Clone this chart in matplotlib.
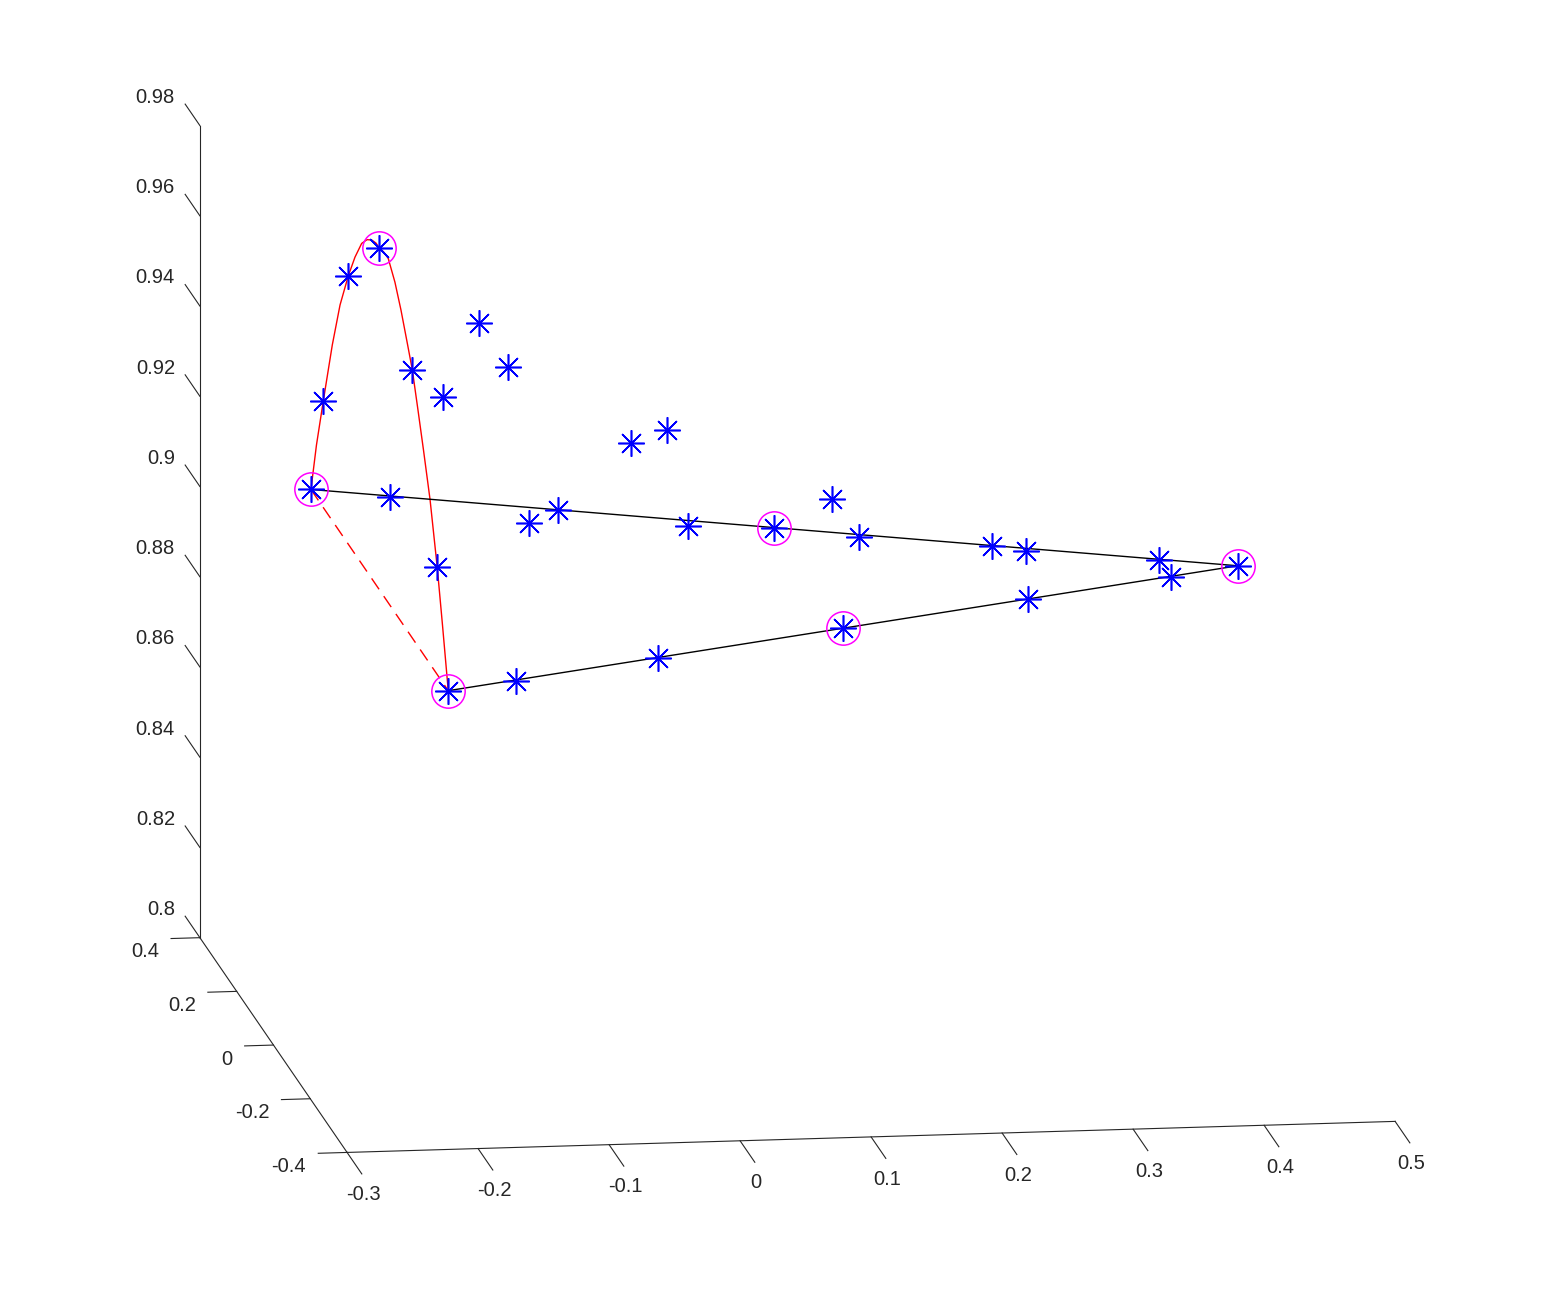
import numpy as np
import matplotlib
matplotlib.use("Agg")
import matplotlib.pyplot as plt

plt.rcParams['font.family'] = ['Liberation Sans', 'DejaVu Sans']

# Points, as (x, z); every point sits in the plane y = DEPTH
DEPTH = 0.0
star_x = [-0.2714, -0.2620, -0.2429, -0.2192, -0.1940, -0.1704, -0.1750, -0.1666,
          -0.2111, -0.1435, -0.1208, -0.1047, -0.0831, -0.1149, -0.0271, 0.0002,
          0.0162, 0.0823, 0.1266, 0.1466, -0.0063, 0.1345, 0.2487, 0.2742,
          0.2762, 0.3762, 0.3851, 0.4360]
star_z = [0.9229, 0.9424, 0.9700, 0.9760, 0.9487, 0.9426, 0.9048, 0.8774,
          0.9208, 0.9586, 0.9488, 0.9141, 0.9167, 0.8792, 0.9310, 0.9338,
          0.9124, 0.9114, 0.9173, 0.9087, 0.8833, 0.8886, 0.9059, 0.9046,
          0.8939, 0.9017, 0.8978, 0.8999]

ring_idx = [0, 3, 7, 17, 21, 27]   # stars with a magenta circle
edge_idx = [0, 27, 7]              # black polyline
dash_idx = [0, 7]                  # red dashed segment

# red curve
curve_x = [-0.2714, -0.2672, -0.2620, -0.2551, -0.2492, -0.2429, -0.2378, -0.2327,
           -0.2286, -0.2250, -0.2218, -0.2192, -0.2160, -0.2124, -0.2073, -0.2027,
           -0.1976, -0.1940, -0.1897, -0.1855, -0.1805, -0.1750, -0.1710, -0.1666]
curve_z = [0.9229, 0.9327, 0.9424, 0.9548, 0.9636, 0.9700, 0.9741, 0.9771,
           0.9779, 0.9778, 0.9771, 0.9760, 0.9751, 0.9736, 0.9683, 0.9621,
           0.9543, 0.9487, 0.9398, 0.9309, 0.9199, 0.9048, 0.8920, 0.8774]

x_ticks = [-0.3, -0.2, -0.1, 0, 0.1, 0.2, 0.3, 0.4, 0.5]
x_labels = ['-0.3', '-0.2', '-0.1', '0', '0.1', '0.2', '0.3', '0.4', '0.5']
y_ticks = [-0.4, -0.2, 0, 0.2, 0.4]
y_labels = ['-0.4', '-0.2', '0', '0.2', '0.4']
z_ticks = [0.8, 0.82, 0.84, 0.86, 0.88, 0.9, 0.92, 0.94, 0.96, 0.98]
z_labels = ['0.8', '0.82', '0.84', '0.86', '0.88', '0.9', '0.92', '0.94', '0.96', '0.98']

xlim = (-0.3, 0.5)
ylim = (-0.4, 0.4)
zlim = (0.8, 0.98)

AX_COLOR = (0.15, 0.15, 0.15)

fig = plt.figure(figsize=(15.42, 12.94), dpi=100)
ax = fig.add_axes([0.11757, 0.04196, 0.77821, 0.92736], projection='3d',
                  proj_type='ortho', computed_zorder=False)
ax.set_box_aspect((1058.6, 1043.3, 830.2), zoom=1.3773)
ax.view_init(elev=12, azim=-98.11)
ax.set_xlim(*xlim)
ax.set_ylim(*ylim)
ax.set_zlim(*zlim)
ax.set_axis_off()

M = ax.get_proj()


def label(x, y, z, s, **kw):
    # put a 2D text at the projected position of a 3D point
    v = M @ np.array([x, y, z, 1.0])
    ax.text2D(v[0] / v[3], v[1] / v[3], s, transform=ax.transData,
              color=AX_COLOR, fontsize=14.5, **kw)


# axis lines, ticks and labels (MATLAB-like, no box/grid)
axis_kw = dict(color=AX_COLOR, lw=0.8, clip_on=False)
x0, x1 = xlim
y0, y1 = ylim
z0, z1 = zlim
ax.plot([x0, x1], [y0, y0], [z0, z0], **axis_kw)
ax.plot([x0, x0], [y0, y1], [z0, z0], **axis_kw)
ax.plot([x0, x0], [y1, y1], [z0, z1], **axis_kw)
for t, lab in zip(x_ticks, x_labels):
    ax.plot([t, t], [y0, y0 - 0.08], [z0, z0], **axis_kw)
    label(t - 0.0096, y0 - 0.1556, z0, lab, ha='center', va='center')
for t, lab in zip(y_ticks, y_labels):
    ax.plot([x0, x0 - 0.022], [t, t], [z0, z0], **axis_kw)
    label(x0 - 0.0379, t - 0.0468, z0, lab, ha='right', va='center')
for t, lab in zip(z_ticks, z_labels):
    ax.plot([x0, x0], [y1, y1 + 0.08], [t, t], **axis_kw)
    label(x0 - 0.0043, y1 + 0.1053, t, lab, ha='right', va='center')

# data
ax.plot(curve_x, curve_z, zs=DEPTH, zdir='y', color='red', lw=1.0, clip_on=False)
ax.plot([star_x[i] for i in dash_idx], [star_z[i] for i in dash_idx], zs=DEPTH,
        zdir='y', color='red', lw=1.0, dashes=(9.5, 6), clip_on=False)
ax.plot([star_x[i] for i in edge_idx], [star_z[i] for i in edge_idx], zs=DEPTH,
        zdir='y', color='black', lw=1.0, clip_on=False)
ax.plot(star_x, star_z, zs=DEPTH, zdir='y', linestyle='none', marker=(8, 2, 0),
        markersize=19, markeredgewidth=1.15, color='blue', clip_on=False)
ax.plot([star_x[i] for i in ring_idx], [star_z[i] for i in ring_idx], zs=DEPTH,
        zdir='y', linestyle='none', marker='o', markersize=24, markerfacecolor='none',
        markeredgewidth=1.1, markeredgecolor='magenta', clip_on=False)

fig.savefig('out.png', dpi=100)
